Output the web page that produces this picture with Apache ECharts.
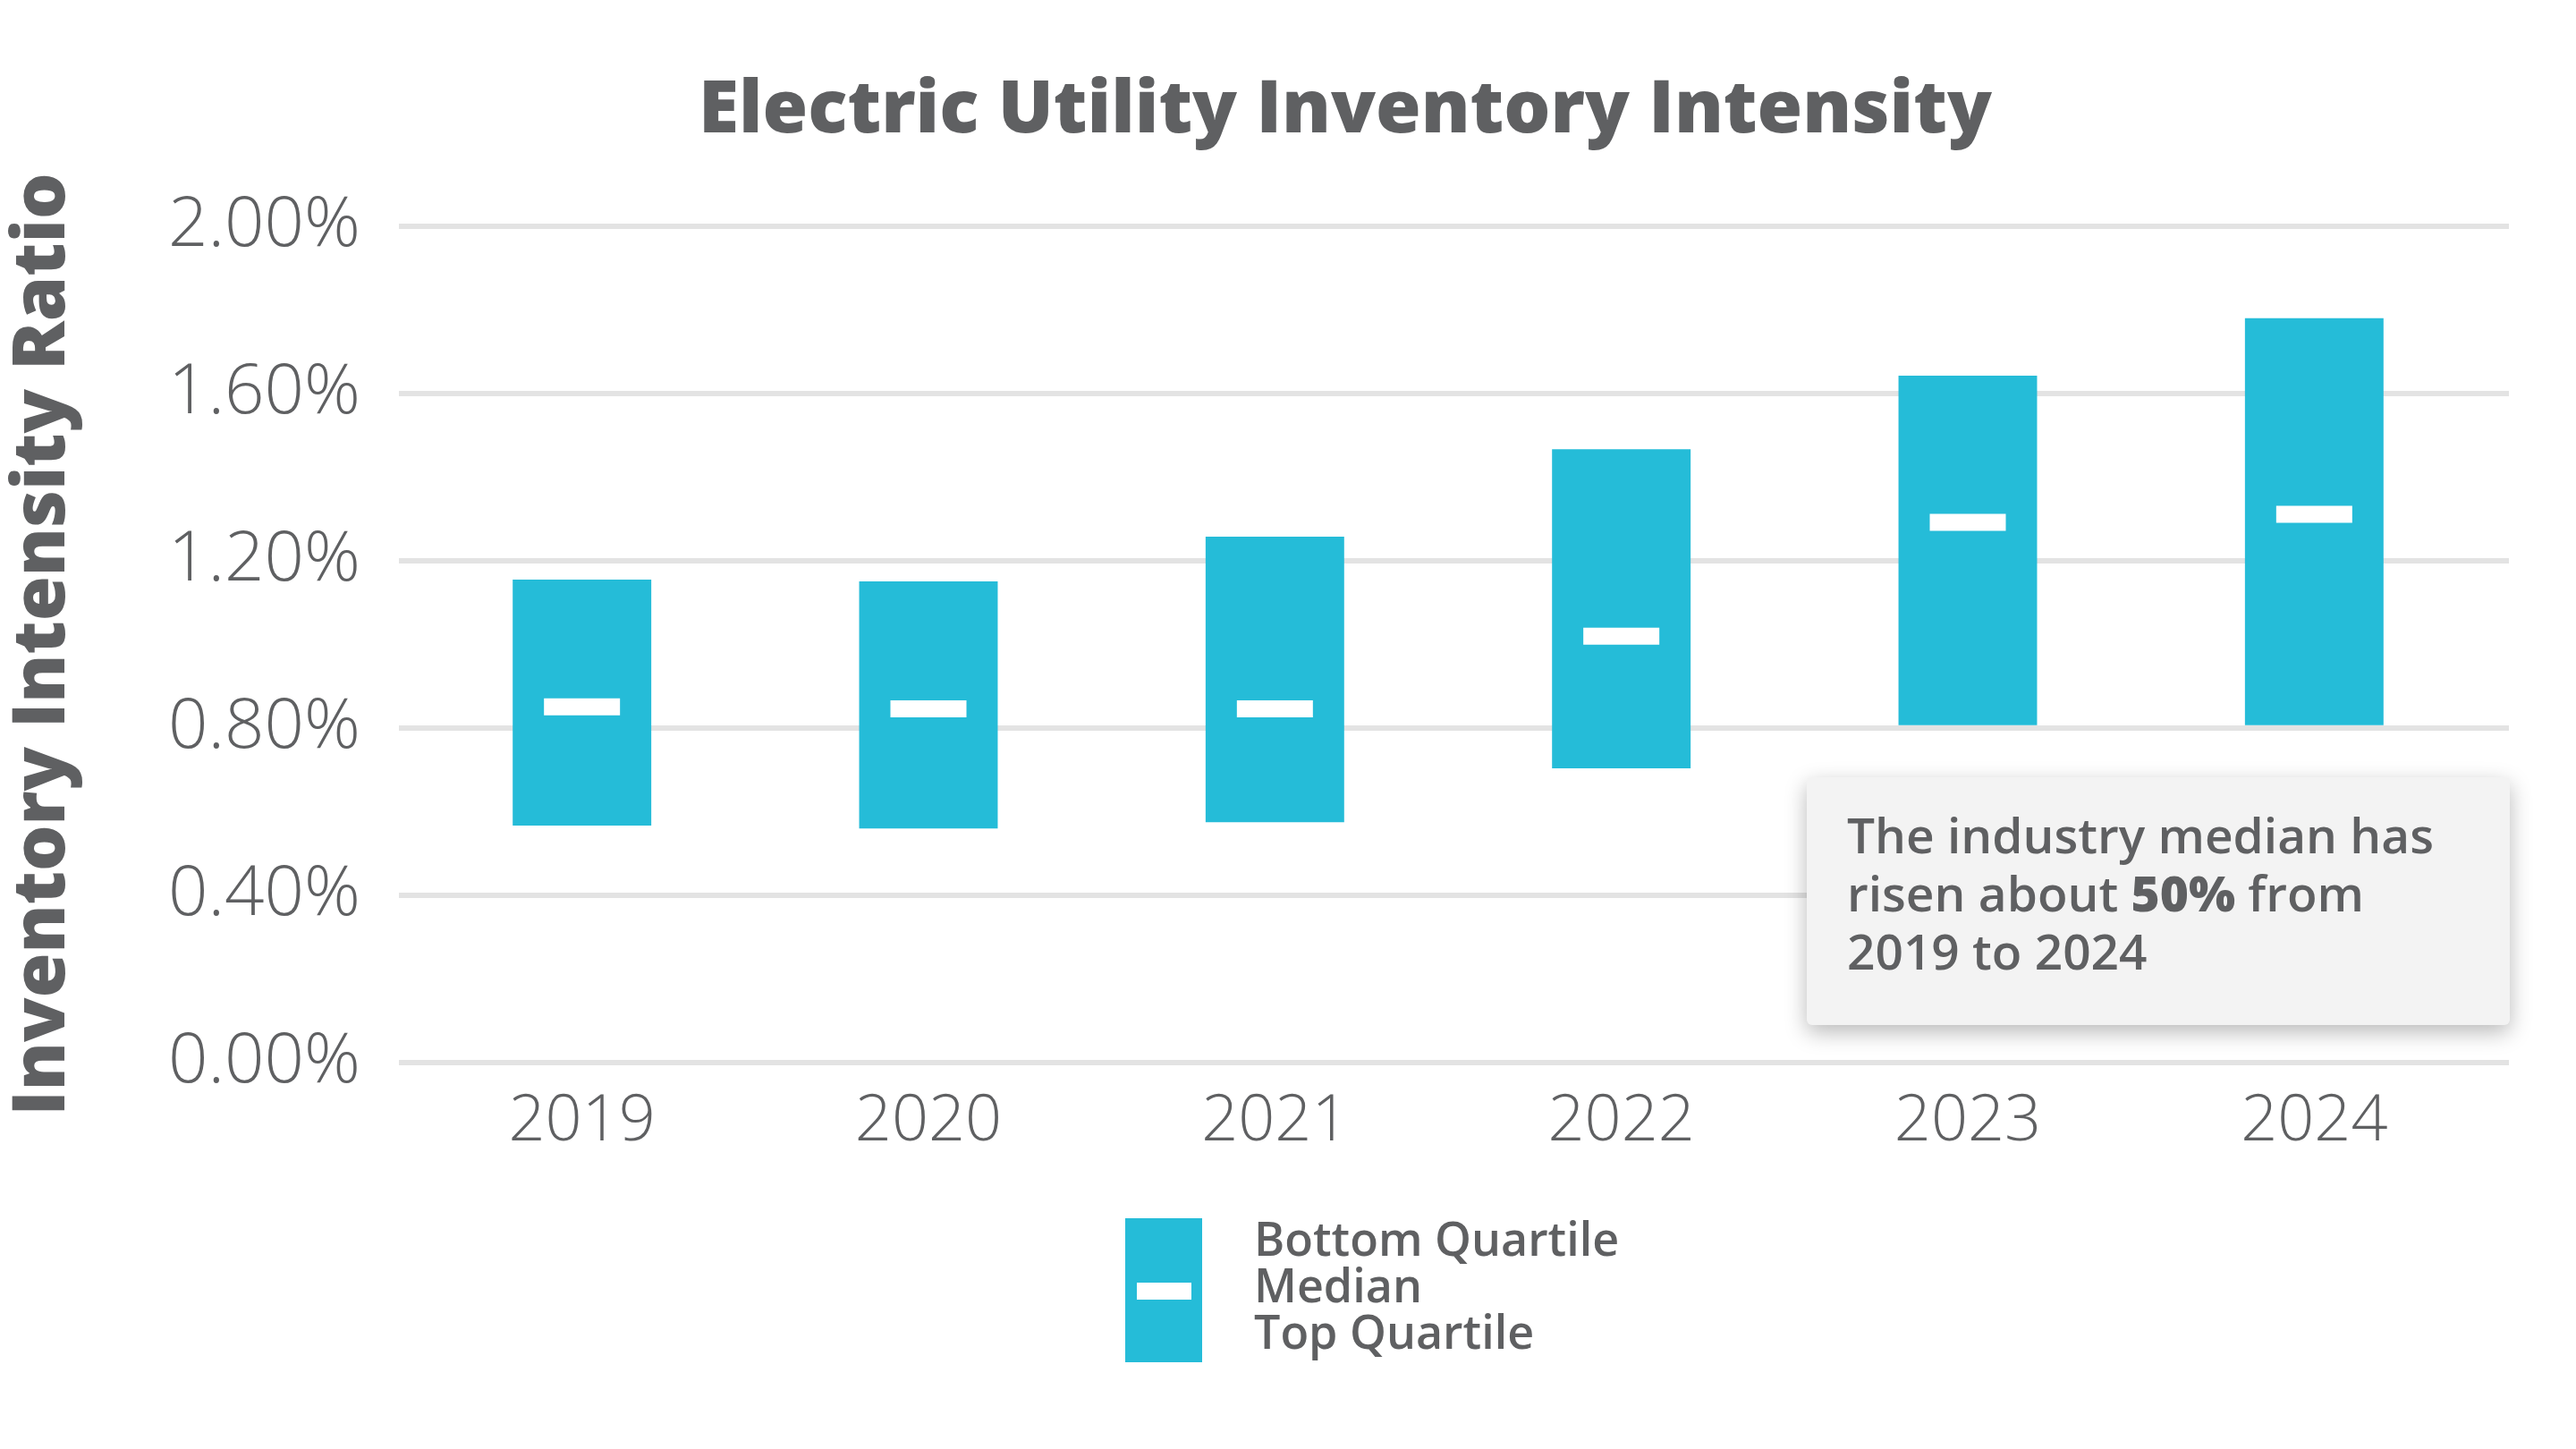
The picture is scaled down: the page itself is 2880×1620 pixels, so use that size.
<!DOCTYPE html>
<html>
<head>
<meta charset="utf-8">
<title>Electric Utility Inventory Intensity</title>
<script src="https://cdn.jsdelivr.net/npm/echarts@6/dist/echarts.min.js"></script>
<style>
  html, body { margin: 0; padding: 0; background: #ffffff; }
  #chart { width: 2880px; height: 1620px; }
</style>
</head>
<body>
<div id="chart"></div>
<script>
// ---- data (values in percent) ----
const years = ['2019', '2020', '2021', '2022', '2023', '2024'];
// upper edge of each bar (labelled "Bottom Quartile" in the legend)
const bottomQuartile = [1.155, 1.151, 1.258, 1.467, 1.643, 1.780];
// lower edge of each bar (labelled "Top Quartile" in the legend)
const topQuartile = [0.567, 0.560, 0.575, 0.704, 0.807, 0.807];
const median = [0.851, 0.846, 0.846, 1.020, 1.292, 1.311];
const yTicks = [0, 0.4, 0.8, 1.2, 1.6, 2.0];
const legendLines = ['Bottom Quartile', 'Median', 'Top Quartile'];
const noteLines = ['The industry median has', 'risen about ', '50%', ' from', '2019 to 2024'];

const TEXT = '#5f6062';
const BAR = '#25bcd8';
const FONT = 'Open Sans';

const rangeSize = bottomQuartile.map((v, i) => +(v - topQuartile[i]).toFixed(4));

const chart = echarts.init(document.getElementById('chart'), null, { renderer: 'canvas' });

const yRange = {
  type: 'value',
  min: yTicks[0],
  max: yTicks[yTicks.length - 1],
  interval: yTicks[1] - yTicks[0],
  axisLine: { show: false },
  axisTick: { show: false }
};

chart.setOption({
  backgroundColor: '#ffffff',
  animation: false,
  textStyle: { fontFamily: FONT },
  title: {
    text: 'Electric Utility Inventory Intensity',
    left: 1499,
    textAlign: 'center',
    top: 79,
    textStyle: { fontFamily: FONT, fontSize: 82, fontWeight: 800, color: TEXT }
  },
  grid: [
    { left: 446, right: 99, top: 253, bottom: 1620 - 1188, containLabel: false },
    { left: 446, right: 75, top: 253, bottom: 1620 - 1188, containLabel: false }
  ],
  xAxis: [
    {
      type: 'category',
      gridIndex: 0,
      data: years,
      axisLine: { show: false },
      axisTick: { show: false },
      axisLabel: { fontFamily: FONT, fontSize: 72, fontWeight: 300, color: TEXT, margin: 30 }
    },
    { type: 'value', gridIndex: 1, min: 0, max: 1, show: false }
  ],
  yAxis: [
    Object.assign({}, yRange, {
      gridIndex: 0,
      name: 'Inventory Intensity Ratio',
      nameLocation: 'middle',
      nameGap: 368,
      nameRotate: 90,
      nameTextStyle: { fontFamily: FONT, fontSize: 81, fontWeight: 800, color: TEXT },
      axisLabel: {
        fontFamily: FONT, fontSize: 78, fontWeight: 300, color: TEXT, margin: 54,
        formatter: v => v.toFixed(2) + '%'
      },
      splitLine: { show: false }
    }),
    Object.assign({}, yRange, {
      gridIndex: 1,
      axisLabel: { show: false },
      splitLine: { show: true, lineStyle: { color: '#e3e3e3', width: 6 } }
    })
  ],
  series: [
    {
      name: 'base',
      type: 'bar',
      stack: 'range',
      data: topQuartile,
      barWidth: '40%',
      itemStyle: { color: 'rgba(0,0,0,0)' },
      silent: true
    },
    {
      name: 'Quartile range',
      type: 'bar',
      stack: 'range',
      data: rangeSize,
      barWidth: '40%',
      itemStyle: { color: BAR }
    },
    {
      name: 'Median',
      type: 'scatter',
      data: median,
      symbol: 'rect',
      symbolSize: [85, 19],
      itemStyle: { color: '#ffffff', opacity: 1 },
      z: 5
    }
  ],
  graphic: [
    // annotation box
    {
      type: 'rect',
      shape: { x: 2020, y: 869, width: 786, height: 277, r: 6 },
      style: { fill: '#f3f3f3', shadowBlur: 24, shadowColor: 'rgba(0,0,0,0.28)', shadowOffsetY: 8 },
      z: 10
    },
    {
      type: 'text',
      x: 2065, y: 906,
      style: {
        text: '{a|' + noteLines[0] + '}\n{a|' + noteLines[1] + '}{b|' + noteLines[2] + '}{a|' + noteLines[3] + '}\n{a|' + noteLines[4] + '}',
        rich: {
          a: { fontFamily: FONT, fontSize: 55, fontWeight: 600, fill: TEXT, color: TEXT, lineHeight: 65 },
          b: { fontFamily: FONT, fontSize: 55, fontWeight: 800, fill: TEXT, color: TEXT, lineHeight: 65 }
        }
      },
      z: 11
    },
    // legend
    {
      type: 'rect',
      shape: { x: 1258, y: 1362, width: 86, height: 161 },
      style: { fill: BAR },
      z: 10
    },
    {
      type: 'rect',
      shape: { x: 1271, y: 1434, width: 61, height: 19 },
      style: { fill: '#ffffff' },
      z: 11
    },
    {
      type: 'text',
      x: 1402, y: 1363,
      style: {
        text: legendLines.join('\n'),
        fontFamily: FONT, fontSize: 52, fontWeight: 600, fill: TEXT, lineHeight: 52
      },
      z: 11
    }
  ]
});
</script>
</body>
</html>
